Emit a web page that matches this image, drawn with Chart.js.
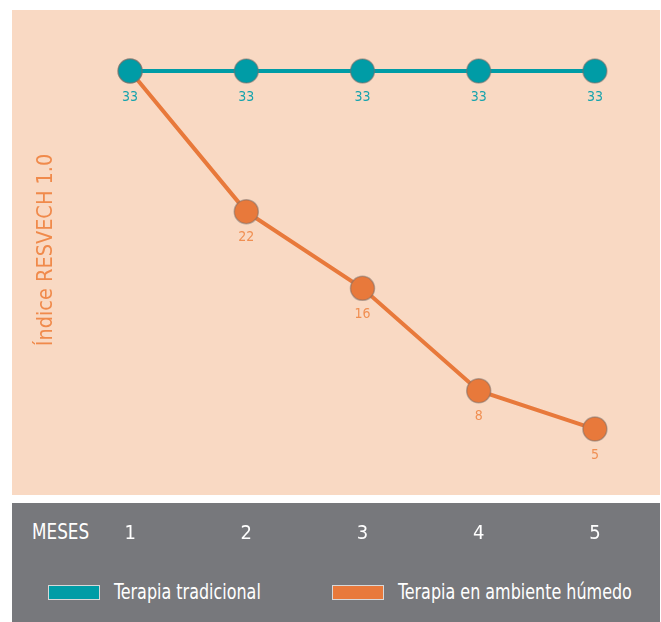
<!DOCTYPE html>
<html>
<head>
<meta charset="utf-8">
<script src="https://cdn.jsdelivr.net/npm/chart.js@4"></script>
<style>
    body { margin: 0; background: #fff; width: 661px; height: 622px; position: relative; overflow: hidden;
           font-family: "DejaVu Sans Condensed", sans-serif; }
    .peach { position: absolute; left: 12px; top: 10px; width: 648px; height: 485px; background: #f9d9c3; }
    .band { position: absolute; left: 12px; top: 503px; width: 648px; height: 119px; background: #77787c; }
    .meses { position: absolute; left: 32px; top: 519px; color: #fff; font-size: 21px; line-height: 26px;
             transform: scaleX(0.89); transform-origin: left center; white-space: nowrap; }
    .legend { position: absolute; top: 580px; color: #fff; font-size: 21px; line-height: 24px; display: flex; align-items: center; white-space: nowrap; }
    .legend span.box { display: inline-block; width: 50px; height: 13px; border: 1.5px solid #d8d8d8; margin-right: 14px; }
    .legend span.txt { display: inline-block; transform: scaleX(0.845); transform-origin: left center; }
    #wrap { position: absolute; left: 0; top: 0; width: 661px; height: 622px; }
</style>
</head>
<body>
<div class="peach"></div>
<div class="band"></div>
<div class="meses">MESES</div>
<div class="legend" style="left:48px"><span class="box" style="background:#009ca6"></span><span class="txt">Terapia tradicional</span></div>
<div class="legend" style="left:332px"><span class="box" style="background:#e8793b"></span><span class="txt">Terapia en ambiente húmedo</span></div>
<div id="wrap"><canvas id="chart" width="661" height="622"></canvas></div>
<script>
const months = ['1', '2', '3', '4', '5'];
const tradicional = [33, 33, 33, 33, 33];
const humedo = [33, 22, 16, 8, 5];
const humedoLabels = [null, 22, 16, 8, 5];
const axisTitle = 'Índice RESVECH 1.0';

const FONT = '"DejaVu Sans Condensed", sans-serif';
const TEAL = '#009ca6';
const ORANGE = '#e8793b';

// value labels under each point
const valueLabels = {
    id: 'valueLabels',
    afterDatasetsDraw(chart) {
        const ctx = chart.ctx;
        ctx.save();
        ctx.font = '14px ' + FONT;
        ctx.textAlign = 'center';
        ctx.textBaseline = 'middle';
        chart.data.datasets.forEach((ds, i) => {
            const meta = chart.getDatasetMeta(i);
            meta.data.forEach((pt, j) => {
                const v = ds.valueLabels[j];
                if (v === null) return;
                ctx.fillStyle = ds.labelColor;
                ctx.fillText(v, pt.x, pt.y + 26);
            });
        });
        ctx.restore();
    }
};

new Chart(document.getElementById('chart').getContext('2d'), {
    type: 'line',
    data: {
        labels: months,
        datasets: [{
            label: 'Terapia tradicional',
            data: tradicional,
            valueLabels: tradicional,
            labelColor: '#17a3ad',
            borderColor: TEAL,
            backgroundColor: TEAL,
            borderWidth: 4,
            pointRadius: 12,
            pointHoverRadius: 12,
            pointBorderWidth: 1.5,
            pointBorderColor: 'rgba(120,110,105,0.5)',
            pointBackgroundColor: TEAL,
            tension: 0
        }, {
            label: 'Terapia en ambiente húmedo',
            data: humedo,
            valueLabels: humedoLabels,
            labelColor: '#f08f52',
            borderColor: ORANGE,
            backgroundColor: ORANGE,
            borderWidth: 4,
            pointRadius: 12,
            pointHoverRadius: 12,
            pointBorderWidth: 1.5,
            pointBorderColor: 'rgba(120,110,105,0.5)',
            pointBackgroundColor: ORANGE,
            tension: 0
        }]
    },
    options: {
        responsive: false,
        animation: false,
        layout: { autoPadding: false, padding: { left: 30, right: 8, top: 7, bottom: 79 } },
        plugins: {
            legend: { display: false },
            tooltip: { enabled: false }
        },
        scales: {
            x: {
                offset: true,
                grid: { display: false, drawTicks: false },
                border: { display: false },
                ticks: { color: '#ffffff', padding: 29, font: { family: FONT, size: 20 } },
                afterFit(s) {
                    s.height = 50;
                    s.paddingLeft = 0;
                    s.paddingRight = 0;
                }
            },
            y: {
                min: 0,
                max: 38,
                grid: { display: false, drawTicks: false },
                border: { display: false },
                ticks: { display: false },
                title: {
                    display: true,
                    text: axisTitle,
                    color: '#f08a4b',
                    font: { family: FONT, size: 21.5 }
                },
                afterFit(s) { s.width = 42; }
            }
        }
    },
    plugins: [valueLabels]
});
</script>
</body>
</html>
